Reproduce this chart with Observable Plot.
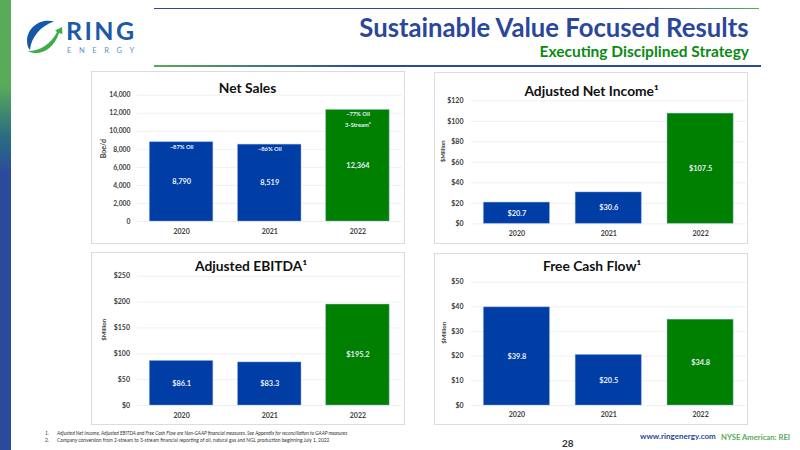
<!DOCTYPE html>
<html><head><meta charset="utf-8">
<script src="https://cdn.jsdelivr.net/npm/d3@7"></script>
<script src="https://cdn.jsdelivr.net/npm/@observablehq/plot@0.6"></script>
<style>
html,body{margin:0;padding:0;background:#fff;}
body{width:800px;height:450px;position:relative;overflow:hidden;font-family:Lato,"Open Sans",sans-serif;}
.a{position:absolute;white-space:nowrap;}
.box{position:absolute;box-sizing:border-box;border:1.5px solid #dcdcdc;background:#fff;}
.ptitle{position:absolute;font-weight:700;font-size:13.8px;color:#111;text-align:center;white-space:nowrap;transform:translateX(-50%);line-height:18px;}
svg{position:absolute;overflow:visible;}
</style></head><body>
<script>
const years = ["2020","2021","2022"];
const barColors = ["#003da5","#003da5","#008000"];
const netSales = [8790,8519,12364];
const netSalesLabels = ["8,790","8,519","12,364"];
const netSalesTicks = [0,2000,4000,6000,8000,10000,12000,14000];
const oilNotes = ["~87% Oil","~86% Oil","~77% Oil"];
const streamNote = ["","","3-Stream²"];
const netIncome = [20.7,30.6,107.5];
const netIncomeTicks = [0,20,40,60,80,100,120];
const ebitda = [86.1,83.3,195.2];
const ebitdaTicks = [0,50,100,150,200,250];
const fcf = [39.8,20.5,34.8];
const fcfTicks = [0,10,20,30,40,50];

const dollarTick = d => "$" + d;
const dollar1 = d => "$" + d.toFixed(1);
const TEXT = "#404040";

function panel(o){
  const box=document.createElement("div");
  box.className="box";
  box.style.cssText=`left:${o.left}px;top:${o.top}px;width:${o.w}px;height:${o.h}px`;
  document.body.append(box);
  const t=document.createElement("div");
  t.className="ptitle"; t.textContent=o.title;
  t.style.left=o.titleX+"px"; t.style.top=o.titleY+"px";
  document.body.append(t);
  const rows=years.map((y,i)=>({year:y,v:o.values[i],label:o.labels[i],color:barColors[i],
    note:o.notes?o.notes[i]:"",note2:o.notes2?o.notes2[i]:""}));
  const pl=Plot.plot({
    width:o.w,height:o.h,
    marginLeft:o.mL,marginRight:o.mR,marginTop:o.mT,marginBottom:o.mB,
    style:{fontFamily:"Lato,'Open Sans',sans-serif",background:"transparent"},
    x:{domain:years,paddingInner:0.28,paddingOuter:0.14,align:0.5,round:false,label:null},
    y:{domain:[0,o.max],label:null},
    marks:[
      Plot.ruleY(o.ticks,{stroke:"#ececec",strokeWidth:0.8}),
      Plot.axisY({ticks:o.ticks,tickSize:0,tickPadding:o.tickPad,tickFormat:o.tickFormat,
        fontSize:o.tickSize||7,fontWeight:700,fill:TEXT,label:null}),
      Plot.axisX({tickSize:0,tickPadding:o.xPad,fontSize:7,fontWeight:700,fill:TEXT,label:null}),
      Plot.barY(rows,{x:"year",y:"v",fill:"color",stroke:"#8fb0e0",strokeOpacity:0.55,strokeWidth:0.8}),
      Plot.text(rows,{x:"year",y:d=>d.v/2,text:"label",fill:"#e8eefa",fontSize:7.4,fontWeight:700}),
      Plot.text([o.ylabel],{frameAnchor:"left",rotate:-90,dx:-o.labelOffset,fill:TEXT,fontSize:o.ylabelSize||6,fontWeight:700}),
      ...(o.notes?[
        Plot.text(rows,{x:"year",y:"v",text:"note",dy:4.5,fill:"#e8eefa",fontSize:5.8,fontWeight:700}),
        Plot.text(rows,{x:"year",y:"v",text:"note2",dy:15,fill:"#e8eefa",fontSize:5.8,fontWeight:700})
      ]:[])
    ]
  });
  pl.style.position="absolute";
  pl.style.left=o.left+"px"; pl.style.top=o.top+"px";
  document.body.append(pl);
}

panel({title:"Net Sales",titleX:247.5,titleY:79,left:91,top:71,w:314,h:173,mL:46,mR:3.5,mT:23.7,mB:23,
  values:netSales,labels:netSalesLabels,ticks:netSalesTicks,max:14000,tickFormat:d3.format(","),
  notes:oilNotes,notes2:streamNote,ylabel:"Boe/d",labelOffset:34,ylabelSize:7,tickPad:7,xPad:8,tickSize:6.8});
panel({title:"Adjusted Net Income¹",titleX:591.5,titleY:82,left:434,top:72,w:314,h:172,mL:36.5,mR:2,mT:28.3,mB:20.7,
  values:netIncome,labels:netIncome.map(dollar1),ticks:netIncomeTicks,max:120,tickFormat:dollarTick,
  ylabel:"$Million",labelOffset:28,tickPad:7.5,xPad:7});
panel({title:"Adjusted EBITDA¹",titleX:251,titleY:257,left:91,top:252,w:314,h:173,mL:46,mR:3.5,mT:23.7,mB:20,
  values:ebitda,labels:ebitda.map(dollar1),ticks:ebitdaTicks,max:250,tickFormat:dollarTick,
  ylabel:"$Million",labelOffset:33,tickPad:7.5,xPad:8});
panel({title:"Free Cash Flow¹",titleX:592,titleY:257,left:434,top:253,w:314,h:172,mL:36.5,mR:2,mT:28.7,mB:20,
  values:fcf,labels:fcf.map(dollar1),ticks:fcfTicks,max:50,tickFormat:dollarTick,
  ylabel:"$Million",labelOffset:27,tickPad:7.5,xPad:7});

function add(html,css){const d=document.createElement("div");d.className="a";d.style.cssText=css;d.innerHTML=html;document.body.append(d);}
// page furniture
add("", "left:0;top:0;width:10.5px;height:450px;background:linear-gradient(#5aab58 0,#5aab58 85px,#2a6f80 135px,#2b4a9b 175px,#2b4a9b 100%)");
add("", "left:154px;top:7.5px;width:605px;height:1.5px;background:linear-gradient(90deg,#2b4a9b 0,#2b4a9b 75%,#5aab58 100%)");
add("", "left:154px;top:65px;width:607px;height:1.5px;background:linear-gradient(90deg,#5aab58 0,#2b4a9b 35%,#2b4a9b 100%)");
add("Sustainable Value Focused Results","right:51.5px;top:9px;font-size:25.7px;font-weight:700;color:#2a479c;line-height:36px");
add("Executing Disciplined Strategy","right:51px;top:40px;font-size:15.5px;font-weight:700;color:#0a8a12;line-height:22px");
add("RING","left:66px;top:17px;font-size:25px;font-weight:700;color:#1b5aa8;line-height:26px;letter-spacing:2.4px");
add("ENERGY","left:67px;top:46px;font-size:7.5px;color:#5b8fc4;letter-spacing:7.6px;line-height:9px");
add("Adjusted Net Income, Adjusted EBITDA and Free Cash Flow are Non-GAAP financial measures. See Appendix for reconciliation to GAAP measures","left:57px;top:430px;font-size:4.85px;font-style:italic;color:#333;line-height:6px");
add("Company conversion from 2-stream to 3-stream financial reporting of oil, natural gas and NGL production beginning July 1, 2022","left:57px;top:437px;font-size:4.85px;color:#333;line-height:6px");
add("1.","left:45px;top:430px;font-size:4.85px;font-style:italic;color:#333;line-height:6px");
add("2.","left:45px;top:437px;font-size:4.85px;color:#333;line-height:6px");
add("28","left:562px;top:437px;font-size:10px;font-weight:700;color:#333;line-height:12px");
add("www.ringenergy.com","left:640px;top:430px;font-size:8px;font-weight:700;color:#2a479c;line-height:12px");
add("NYSE American: REI","left:721px;top:431px;font-size:7.7px;font-weight:700;color:#5aab58;line-height:12px");
// logo swoosh
const ns="http://www.w3.org/2000/svg";
const lg=document.createElementNS(ns,"svg");
lg.setAttribute("width","800");lg.setAttribute("height","450");
lg.style.cssText="position:absolute;left:0;top:0;pointer-events:none";
lg.innerHTML=`<path d="M54 21.5C42 18 28 26 27 40C27 45 28 48 30 50C31 38 40 26 54 21.5Z" fill="#1458a6"/>
<path d="M28 51C38 57 54 50 59 33L62.5 34L62 27L55 30.5L57 32C51 44 40 51 28 51Z" fill="#3fae49"/>`;
document.body.append(lg);
</script>
</body></html>
